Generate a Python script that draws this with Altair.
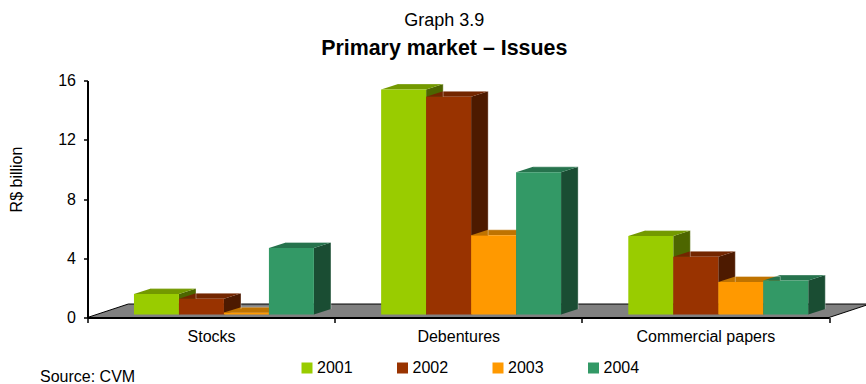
import altair as alt
import pandas as pd

categories = ["Stocks", "Debentures", "Commercial papers"]
years = ["2001", "2002", "2003", "2004"]
stocks = [1.38, 1.07, 0.13, 4.5]
debentures = [15.2, 14.7, 5.35, 9.6]
commercial_papers = [5.3, 3.9, 2.2, 2.3]
front_colors = ["#99CC00", "#993300", "#FF9900", "#339966"]
top_colors = ["#739900", "#732600", "#BF7300", "#26734D"]
side_colors = ["#4D6600", "#4D1A00", "#804D00", "#1A4D33"]

FONT = "Liberation Sans"

# Oblique projection of the bars, in data units of the two axes
bar_start = 0.188
bar_width = 0.182
depth_x = 0.069
depth_y = 0.37
floor_x = 0.165
floor_y = 0.91
base = 0.2

fronts, faces, edges = [], [], []
for c, values in enumerate([stocks, debentures, commercial_papers]):
    for s, v in enumerate(values):
        xl = c + bar_start + s * bar_width
        xr = xl + bar_width
        top = base + v
        fronts.append({"xl": xl, "xr": xr, "y": top, "y2": base, "year": years[s]})
        side = f"{c}-{s}-side"
        roof = f"{c}-{s}-top"
        faces += [
            {"face": side, "shade": side_colors[s], "x": xr, "y": top, "y2": base},
            {"face": side, "shade": side_colors[s], "x": xr + depth_x, "y": top + depth_y, "y2": base + depth_y},
            {"face": roof, "shade": top_colors[s], "x": xl, "y": top, "y2": top},
            {"face": roof, "shade": top_colors[s], "x": xl + depth_x, "y": top + depth_y, "y2": top},
            {"face": roof, "shade": top_colors[s], "x": xr, "y": top + depth_y, "y2": top},
            {"face": roof, "shade": top_colors[s], "x": xr + depth_x, "y": top + depth_y, "y2": top + depth_y},
        ]
        # Pale rim along the back and right edges of each bar
        edge = f"{c}-{s}"
        edges += [
            {"edge": edge, "step": 0, "x": xl + depth_x, "y": top + depth_y},
            {"edge": edge, "step": 1, "x": xr + depth_x, "y": top + depth_y},
            {"edge": edge, "step": 2, "x": xr + depth_x, "y": base + depth_y},
        ]

floor = pd.DataFrame({
    "x": [0, floor_x, 3, 3 + floor_x],
    "y": [0, floor_y, floor_y, floor_y],
    "y2": [0, 0, 0, floor_y],
})

label_expr = (
    "datum.value == 0.5 ? 'Stocks' : datum.value == 1.5 ? 'Debentures' : "
    "datum.value == 2.5 ? 'Commercial papers' : ''"
)
x_scale = alt.Scale(domain=[0, 3], nice=False)
y_scale = alt.Scale(domain=[0, 16], nice=False)
x_axis = alt.Axis(
    values=[0, 0.5, 1, 1.5, 2, 2.5, 3], labelExpr=label_expr, title=None, grid=False,
    domainColor="black", domainWidth=2, tickColor="black", tickWidth=1.5, tickSize=5,
    tickOpacity={"condition": {"test": "datum.value % 1 != 0", "value": 0}, "value": 1},
    labelFont=FONT, labelFontSize=16, labelColor="black", labelPadding=6, labelAngle=0,
    labelFlush=False, labelOverlap=False, zindex=1,
)
y_axis = alt.Axis(
    values=[0, 4, 8, 12, 16], title="R$ billion", grid=False,
    domainColor="black", domainWidth=2, tickColor="black", tickWidth=1.5, tickSize=4,
    labelFont=FONT, labelFontSize=16, labelColor="black", labelPadding=8,
    titleFont=FONT, titleFontSize=16, titleFontWeight="normal", titleColor="black",
    titleX=-63, titleY=98.5, titleAlign="center", titleAnchor="middle",
    zindex=1,
)

floor_layer = alt.Chart(floor).mark_area(color="#808080", stroke="black", strokeWidth=1).encode(
    x=alt.X("x:Q", scale=x_scale, axis=x_axis),
    y=alt.Y("y:Q", scale=y_scale, axis=y_axis),
    y2="y2:Q",
)

face_layer = alt.Chart(pd.DataFrame(faces)).mark_area(interpolate="linear").encode(
    x=alt.X("x:Q", scale=x_scale),
    y=alt.Y("y:Q", scale=y_scale),
    y2="y2:Q",
    detail="face:N",
    color=alt.Color("shade:N", scale=None),
)

edge_layer = alt.Chart(pd.DataFrame(edges)).mark_line(
    color="white", opacity=0.35, strokeWidth=1,
).encode(
    x=alt.X("x:Q", scale=x_scale),
    y=alt.Y("y:Q", scale=y_scale),
    detail="edge:N",
    order="step:Q",
)

front_layer = alt.Chart(pd.DataFrame(fronts)).mark_rect().encode(
    x=alt.X("xl:Q", scale=x_scale),
    x2="xr:Q",
    y=alt.Y("y:Q", scale=y_scale),
    y2="y2:Q",
    color=alt.Color(
        "year:N",
        scale=alt.Scale(domain=years, range=front_colors),
        legend=alt.Legend(
            title=None, orient="none", legendX=211.5, legendY=279.5, direction="horizontal",
            symbolType="square", symbolSize=121, symbolStrokeWidth=0, symbolOpacity=1,
            labelFont=FONT, labelFontSize=16, labelColor="black", columnPadding=41.5, labelOffset=2,
        ),
    ),
)

source_layer = alt.Chart(pd.DataFrame({"text": ["Source: CVM"]})).mark_text(
    font=FONT, fontSize=16, align="left", baseline="alphabetic", color="black",
).encode(x=alt.value(-47.5), y=alt.value(301.5), text="text:N")

chart = (
    alt.layer(floor_layer, face_layer, edge_layer, front_layer, source_layer)
    .resolve_scale(color="independent")
    .properties(
        width=741.5,
        height=237,
        padding={"left": 87.5, "top": 80.5, "right": 37, "bottom": 66.5},
        autosize=alt.AutoSizeParams(type="none"),
        title=alt.TitleParams(
            text="Graph 3.9", subtitle="Primary market – Issues",
            font=FONT, fontSize=18, fontWeight="normal", color="black",
            subtitleFont=FONT, subtitleFontSize=21.4, subtitleFontWeight="bold", subtitleColor="black",
            subtitlePadding=8, anchor="middle", dx=-14, offset=13,
        ),
    )
    .configure_view(stroke=None)
)

chart.save("out.html", embed_options={"renderer": "svg", "actions": False})
